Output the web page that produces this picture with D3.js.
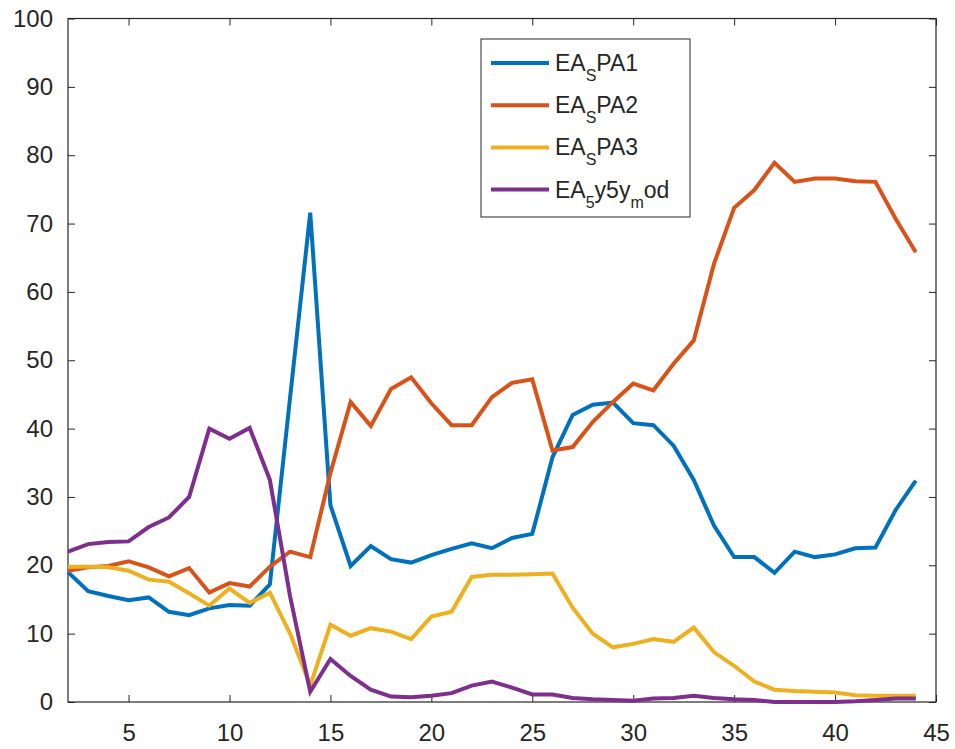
<!DOCTYPE html>
<html>
<head>
<meta charset="utf-8">
<script src="https://cdn.jsdelivr.net/npm/d3@7"></script>
<style>
  body { margin: 0; background: #fff; }
  svg { font-family: "Liberation Sans", Arial, sans-serif; }
</style>
</head>
<body>
<svg width="955" height="749"></svg>
<script>
// x positions (sample index)
var xValues = [2,3,4,5,6,7,8,9,10,11,12,13,14,15,16,17,18,19,20,21,22,23,24,25,26,27,28,29,30,31,32,33,34,35,36,37,38,39,40,41,42,43,44];

var spa1 = [19.0,16.2,15.5,14.9,15.3,13.2,12.7,13.7,14.2,14.1,17.2,44.5,71.6,28.8,19.9,22.8,20.9,20.4,21.5,22.4,23.2,22.5,24.0,24.6,35.8,42.0,43.5,43.8,40.8,40.5,37.5,32.5,25.8,21.2,21.2,18.9,22.0,21.2,21.6,22.5,22.6,28.1,32.4];
var spa2 = [19.2,19.7,19.9,20.6,19.7,18.4,19.6,16.0,17.4,16.9,19.8,22.0,21.2,33.5,43.9,40.4,45.8,47.5,43.7,40.5,40.5,44.6,46.7,47.2,36.8,37.3,41.0,43.9,46.6,45.6,49.5,52.9,64.1,72.3,74.9,78.9,76.1,76.6,76.6,76.2,76.1,70.7,65.8];
var spa3 = [19.8,19.8,19.7,19.2,17.9,17.6,15.9,14.1,16.6,14.5,16.0,10.0,2.4,11.3,9.7,10.8,10.3,9.2,12.5,13.2,18.3,18.6,18.6,18.7,18.8,13.8,10.0,8.0,8.5,9.2,8.8,10.9,7.3,5.3,3.0,1.8,1.6,1.5,1.4,1.0,0.9,0.9,0.9];
var mod5y5y = [22.0,23.1,23.4,23.5,25.6,27.0,30.0,40.0,38.5,40.1,32.5,15.5,1.5,6.3,3.8,1.8,0.8,0.7,0.9,1.3,2.4,3.0,2.1,1.1,1.1,0.6,0.4,0.3,0.2,0.5,0.6,0.9,0.6,0.4,0.3,0.0,0.0,0.0,0.0,0.1,0.3,0.5,0.5];

var xTicks = [5,10,15,20,25,30,35,40,45];
var yTicks = [0,10,20,30,40,50,60,70,80,90,100];

// legend labels: [text, isSubscript] pieces
var seriesNames = [
    [["EA",0],["S",1],["PA1",0]],
    [["EA",0],["S",1],["PA2",0]],
    [["EA",0],["S",1],["PA3",0]],
    [["EA",0],["5",1],["y5y",0],["m",1],["od",0]]
];
var seriesData = [spa1, spa2, spa3, mod5y5y];
var colors = ["#0072BD", "#D95319", "#EDB120", "#7E2F8E"];

var svg = d3.select("svg"),
    marginLeft = 68, marginTop = 18.5,
    width = 868, height = 683.5;

var g = svg.append("g")
    .attr("transform", "translate(" + marginLeft + "," + marginTop + ")");

var x = d3.scaleLinear().domain([2, 45]).range([0, width]);
var y = d3.scaleLinear().domain([0, 100]).range([height, 0]);

var axisColor = "#262626";

// box-style axes with inward ticks
g.append("g")
    .attr("transform", "translate(0," + height + ")")
    .call(d3.axisBottom(x).tickValues(xTicks).tickSizeInner(-7).tickSizeOuter(0).tickPadding(22));
g.append("g")
    .call(d3.axisTop(x).tickValues(xTicks).tickSizeInner(-7).tickSizeOuter(0).tickFormat(""));
g.append("g")
    .call(d3.axisLeft(y).tickValues(yTicks).tickSizeInner(-7).tickSizeOuter(0).tickPadding(15));
g.append("g")
    .attr("transform", "translate(" + width + ",0)")
    .call(d3.axisRight(y).tickValues(yTicks).tickSizeInner(-7).tickSizeOuter(0).tickFormat(""));

g.selectAll(".domain").remove();
g.selectAll(".tick line").attr("stroke", axisColor);
g.selectAll(".tick text")
    .attr("fill", axisColor)
    .style("font-size", "24px")
    .style("font-family", "'Liberation Sans', Arial, sans-serif");

g.append("rect")
    .attr("width", width)
    .attr("height", height)
    .attr("fill", "none")
    .attr("stroke", axisColor)
    .attr("stroke-width", 1.2);

var line = d3.line()
    .x(function (d, i) { return x(xValues[i]); })
    .y(function (d) { return y(d); });

seriesData.forEach(function (s, k) {
    g.append("path")
        .datum(s)
        .attr("fill", "none")
        .attr("stroke", colors[k])
        .attr("stroke-width", 4)
        .attr("stroke-linejoin", "miter")
        .attr("d", line);
});

// legend
var legend = svg.append("g").attr("transform", "translate(481,39)");
legend.append("rect")
    .attr("width", 209)
    .attr("height", 178)
    .attr("fill", "#fff")
    .attr("stroke", axisColor)
    .attr("stroke-width", 1);

seriesNames.forEach(function (parts, k) {
    var yy = 24 + k * 42.2;
    legend.append("line")
        .attr("x1", 10).attr("x2", 68)
        .attr("y1", yy).attr("y2", yy)
        .attr("stroke", colors[k])
        .attr("stroke-width", 4);
    var t = legend.append("text")
        .attr("x", 74)
        .attr("y", yy + 8)
        .attr("fill", axisColor)
        .style("font-size", "23px");
    var shifted = 0;
    parts.forEach(function (p) {
        var dy = 0;
        if (p[1] && !shifted) { dy = 10; shifted = 1; }
        else if (!p[1] && shifted) { dy = -10; shifted = 0; }
        t.append("tspan")
            .attr("dy", dy)
            .style("font-size", p[1] ? "16px" : "23px")
            .text(p[0]);
    });
});
</script>
</body>
</html>
